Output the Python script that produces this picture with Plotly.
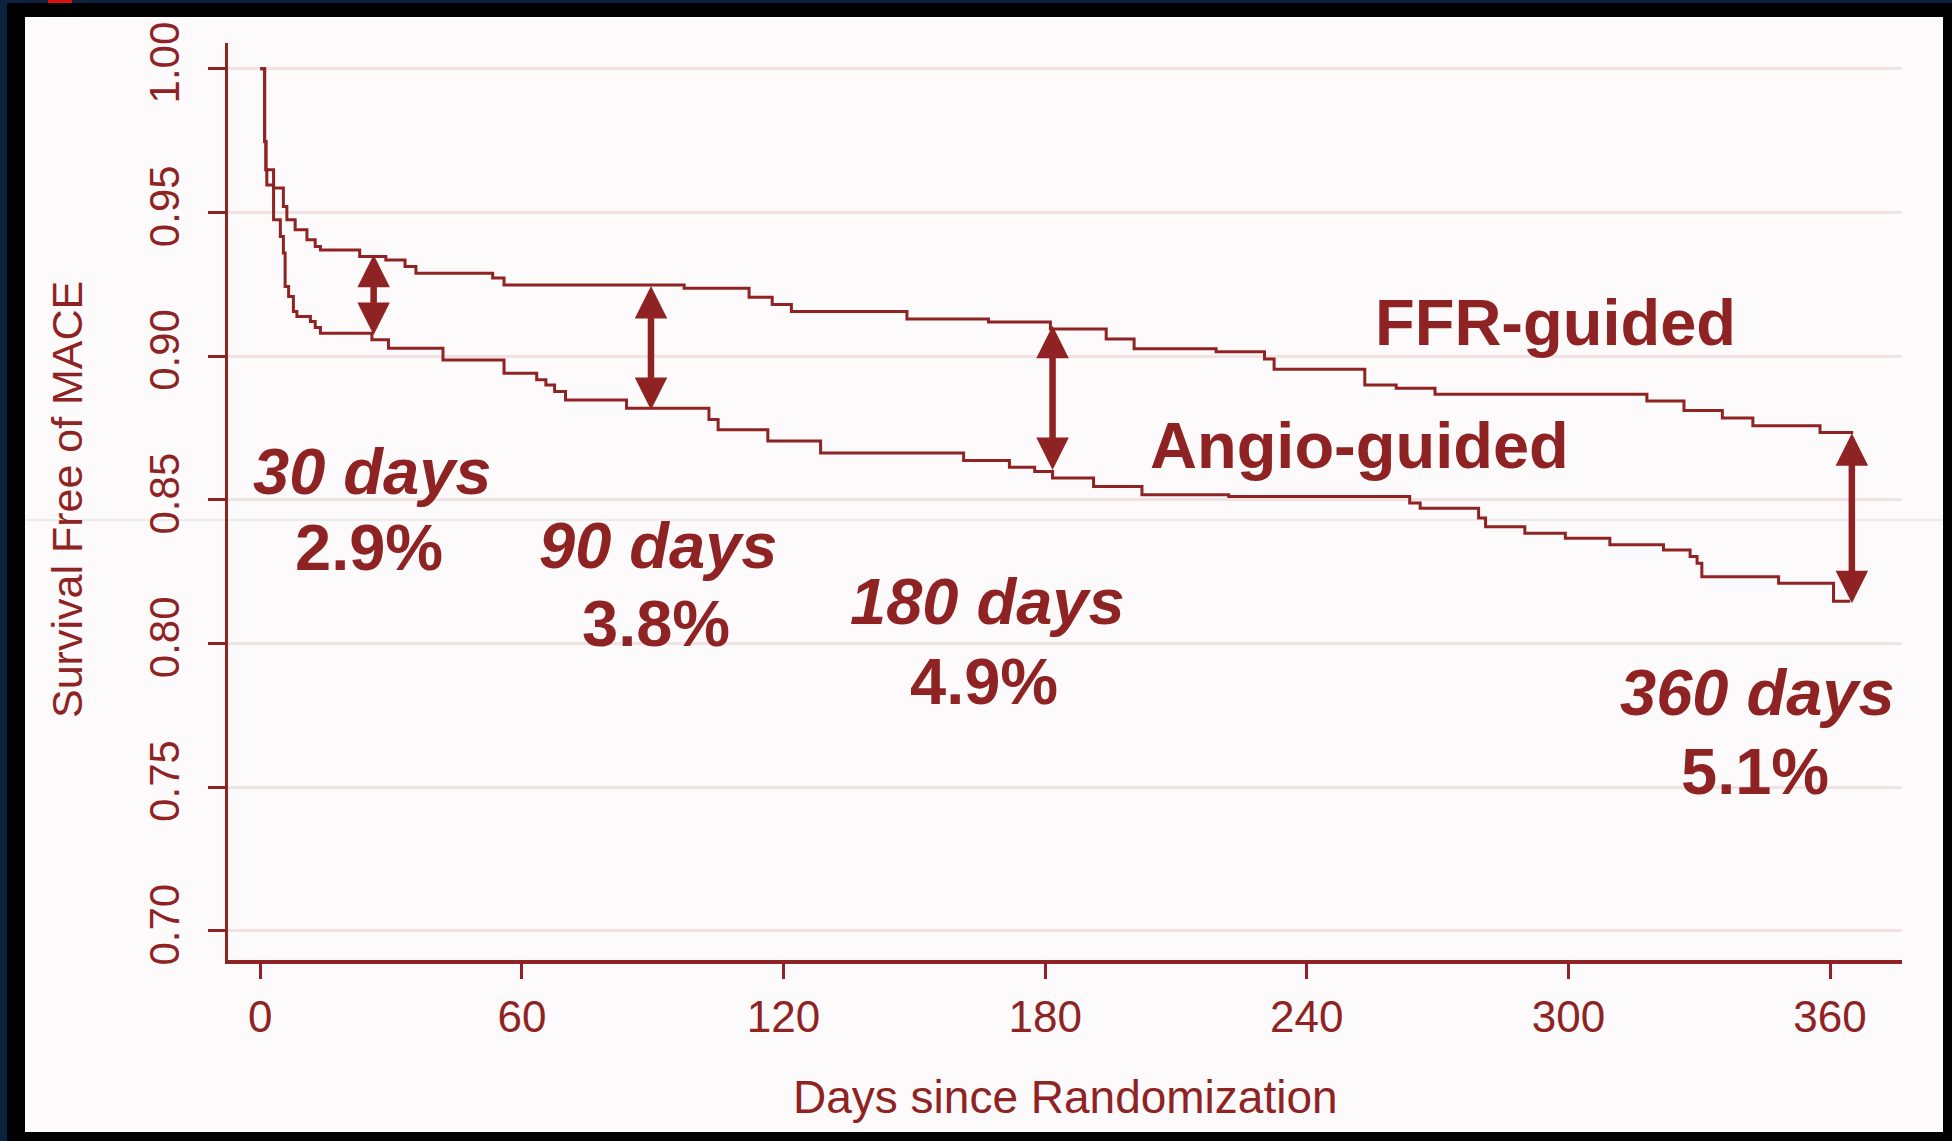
import plotly.graph_objects as go

# ---------------- data ----------------
ffr_days = [0, 1.0, 1.3, 3.05, 5.3, 6.1, 8.0, 10.7, 12.6, 13.8, 22.8, 28.8, 33.2, 35.7,
            53.3, 55.9, 97.2, 112.1, 117.4, 121.8, 148.3, 167.0, 181.2, 194.0, 200.4,
            219.2, 230.3, 232.5, 253.3, 260.5, 269.4, 318.0, 326.5, 335.3, 342.3, 357.7, 365.3]
ffr_surv = [1.000, 0.9747, 0.9649, 0.9585, 0.9521, 0.9475, 0.9440, 0.9405, 0.9382, 0.9370,
            0.9347, 0.9335, 0.9312, 0.9289, 0.9272, 0.9248, 0.9237, 0.9205, 0.9180, 0.9156,
            0.9130, 0.9119, 0.9095, 0.9060, 0.9026, 0.9016, 0.8990, 0.8955, 0.8900, 0.8889,
            0.8868, 0.8844, 0.8811, 0.8785, 0.8758, 0.8735, 0.8735]

angio_days = [0, 1.0, 1.3, 1.5, 3.05, 4.6, 5.3, 5.7, 6.5, 7.6, 8.4, 11.5, 12.6, 13.8, 25.6,
              29.4, 41.9, 55.9, 63.4, 65.5, 67.5, 70.0, 84.0, 102.9, 105.0, 116.4, 128.5,
              161.3, 171.8, 177.6, 181.7, 191.1, 202.2, 222.1, 263.6, 266.0, 279.4, 281.0,
              290.0, 299.3, 309.5, 321.8, 327.9, 329.5, 330.6, 348.2, 360.8, 364.6]
angio_surv = [1.000, 0.9747, 0.9649, 0.9596, 0.9475, 0.9417, 0.9359, 0.9243, 0.9208, 0.9156,
              0.9138, 0.9121, 0.9100, 0.9080, 0.9057, 0.9028, 0.8987, 0.8941, 0.8918, 0.8900,
              0.8877, 0.8848, 0.8819, 0.8780, 0.8744, 0.8705, 0.8663, 0.8637, 0.8614, 0.8599,
              0.8576, 0.8547, 0.8518, 0.8512, 0.8489, 0.8471, 0.8437, 0.8407, 0.8384, 0.8367,
              0.8344, 0.8326, 0.8303, 0.8280, 0.8233, 0.8210, 0.8147, 0.8147]

arrow_days = [26.0, 89.6, 181.7, 365.0]
arrow_top = [0.9353, 0.9244, 0.9106, 0.8732]
arrow_bottom = [0.9069, 0.8808, 0.8599, 0.8135]

period_labels = ["30 days", "90 days", "180 days", "360 days"]
diff_labels = ["2.9%", "3.8%", "4.9%", "5.1%"]
period_x = [25.7, 91.3, 166.7, 343.3]
period_y = [0.8598, 0.8340, 0.8145, 0.7829]
diff_x = [25.0, 90.8, 166.0, 342.9]
diff_y = [0.8333, 0.8069, 0.7867, 0.7554]

group_labels = ["FFR-guided", "Angio-guided"]
group_x = [297.0, 252.2]
group_y = [0.9116, 0.8688]

x_ticks = [0, 60, 120, 180, 240, 300, 360]
y_ticks = [0.70, 0.75, 0.80, 0.85, 0.90, 0.95, 1.00]

# ---------------- styling ----------------
RED = "#8f2323"
PANEL = "#fcfafa"
W, H = 1952, 1141
L, R, T, B = 228, 50, 43, 181
PW, PH = W - L - R, H - T - B


def px_x(X):
    return (X - L) / PW


def px_y(Y):
    return (H - B - Y) / PH


fig = go.Figure()
fig.add_trace(go.Scatter(x=ffr_days, y=ffr_surv, mode="lines", line_shape="hv",
                         line=dict(color=RED, width=3), name=group_labels[0],
                         showlegend=False))
fig.add_trace(go.Scatter(x=angio_days, y=angio_surv, mode="lines", line_shape="hv",
                         line=dict(color=RED, width=3), name=group_labels[1],
                         showlegend=False))

ann = []
for d, t, b in zip(arrow_days, arrow_top, arrow_bottom):
    ann.append(dict(x=d, y=t, ax=d, ay=b, xref="x", yref="y", axref="x", ayref="y",
                    text="", showarrow=True, arrowside="end+start",
                    arrowhead=2, startarrowhead=2, arrowsize=1.0, startarrowsize=1.0,
                    arrowwidth=6.5, arrowcolor=RED))

BIG = dict(family="Liberation Sans, Arial, sans-serif", size=65, color=RED)
for lab, x, y in zip(period_labels, period_x, period_y):
    ann.append(dict(x=x, y=y, xref="x", yref="y", text="<b><i>%s</i></b>" % lab,
                    showarrow=False, font=BIG, xanchor="center", yanchor="middle"))
for lab, x, y in zip(diff_labels, diff_x, diff_y):
    ann.append(dict(x=x, y=y, xref="x", yref="y", text="<b>%s</b>" % lab,
                    showarrow=False, font=BIG, xanchor="center", yanchor="middle"))
for lab, x, y in zip(group_labels, group_x, group_y):
    ann.append(dict(x=x, y=y, xref="x", yref="y", text="<b>%s</b>" % lab,
                    showarrow=False, font=BIG, xanchor="center", yanchor="middle"))

# axis titles
ann.append(dict(x=0.5, y=px_y(1097), xref="paper", yref="paper",
                text="Days since Randomization", showarrow=False,
                font=dict(family="Liberation Sans, Arial, sans-serif", size=46, color=RED),
                xanchor="center", yanchor="middle"))
ann.append(dict(x=px_x(67), y=px_y(500), xref="paper", yref="paper",
                text="Survival Free of MACE", showarrow=False, textangle=-90,
                font=dict(family="Liberation Sans, Arial, sans-serif", size=43, color=RED),
                xanchor="center", yanchor="middle"))

shapes = [
    # navy strips (outer frame)
    dict(type="rect", xref="paper", yref="paper", x0=px_x(0), x1=px_x(7),
         y0=px_y(H), y1=px_y(0), fillcolor="#0e2240", line=dict(width=0), layer="below"),
    dict(type="rect", xref="paper", yref="paper", x0=px_x(0), x1=px_x(W),
         y0=px_y(3), y1=px_y(0), fillcolor="#0e2240", line=dict(width=0), layer="below"),
    dict(type="rect", xref="paper", yref="paper", x0=px_x(48), x1=px_x(72),
         y0=px_y(3), y1=px_y(0), fillcolor="#e01010", line=dict(width=0), layer="below"),
    # light panel
    dict(type="rect", xref="paper", yref="paper", x0=px_x(25), x1=px_x(1943),
         y0=px_y(1132), y1=px_y(17), fillcolor=PANEL, line=dict(width=0), layer="below"),
    # faint scan line across the panel
    dict(type="line", xref="paper", yref="paper", x0=px_x(25), x1=px_x(1943),
         y0=px_y(520), y1=px_y(520), line=dict(color="#dcdcdc", width=1), layer="below"),
]

fig.update_layout(
    width=W, height=H,
    margin=dict(l=L, r=R, t=T, b=B, pad=0),
    paper_bgcolor="#000000", plot_bgcolor=PANEL,
    annotations=ann, shapes=shapes, showlegend=False,
    xaxis=dict(range=[-7.4, 376.5], tickvals=x_ticks, ticktext=[str(v) for v in x_ticks],
               showgrid=False, zeroline=False, showline=True, linecolor=RED, linewidth=4,
               ticks="outside", ticklen=15, tickwidth=2.5, tickcolor=RED,
               tickfont=dict(family="Liberation Sans, Arial, sans-serif", size=44, color=RED),
               ticklabelstandoff=0),
    yaxis=dict(range=[0.6899, 1.009], tickvals=y_ticks, tickformat=".2f",
               showgrid=True, gridcolor="#f1e3e3", gridwidth=2.5,
               zeroline=False, showline=True, linecolor=RED, linewidth=3,
               ticks="outside", ticklen=17, tickwidth=3, tickcolor=RED, tickangle=-90,
               tickfont=dict(family="Liberation Sans Narrow, Liberation Sans, Arial, sans-serif",
                             size=42, color=RED),
               ticklabelstandoff=12),
)

fig.write_html("out.html",
               config={"displayModeBar": False},
               post_script="document.body.style.margin='0';"
                           "document.body.style.background='#000';"
                           "document.documentElement.style.overflow='hidden';")
